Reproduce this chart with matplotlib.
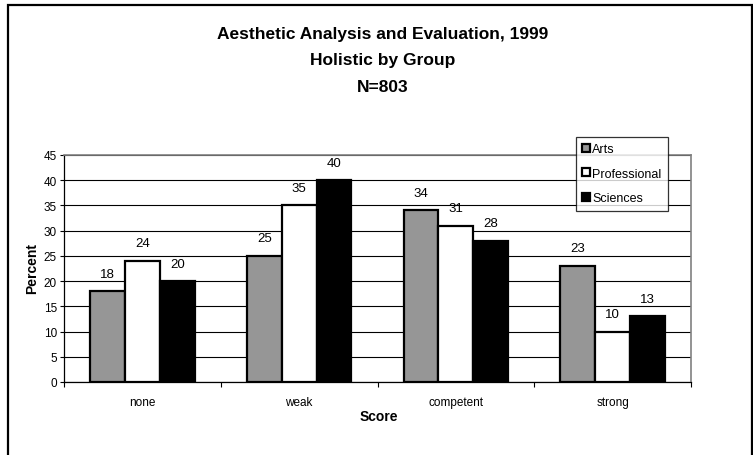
import numpy as np
import matplotlib
matplotlib.use("Agg")
import matplotlib.pyplot as plt
from matplotlib.patches import Rectangle

plt.rcParams['font.family'] = ['Liberation Sans', 'DejaVu Sans']

# Data
scores = ["none", "weak", "competent", "strong"]
groups = ["Arts", "Professional", "Sciences"]
arts = [18, 25, 34, 23]
professional = [24, 35, 31, 10]
sciences = [20, 40, 28, 13]
series = [arts, professional, sciences]
colors = ["#969696", "#ffffff", "#000000"]
yticks = list(range(0, 46, 5))

W, H = 753, 456
fig = plt.figure(figsize=(W / 100, H / 100), dpi=100)

def fx(px):
    return px / W

def fy(py):
    return 1 - py / H

# Outer chart frame
fig.patches.append(Rectangle((fx(8), fy(470)), fx(752) - fx(8), fy(6) - fy(470),
                             transform=fig.transFigure, fill=False,
                             edgecolor="#000000", linewidth=1.6))

# Plot area
left, right, top, bottom = 64, 691, 156, 383
ax = fig.add_axes([fx(left), fy(bottom), fx(right) - fx(left), fy(top) - fy(bottom)])

x = np.arange(len(scores))
bw = 1 / 4.5
offsets = [-bw, 0, bw]
for vals, col, off, name in zip(series, colors, offsets, groups):
    ax.bar(x + off, vals, width=bw, color=col, edgecolor="black",
           linewidth=1.6, label=name, zorder=3)
    for xi, v in zip(x + off, vals):
        ax.annotate(f"{v:.0f}", (xi, v), xytext=(0, 12.6), textcoords="offset points",
                    ha="center", va="center", fontsize=9.5, color="black")

ax.set_xlim(-0.5, len(scores) - 0.5)
ax.set_ylim(0, 45)
ax.set_yticks(yticks)
ax.yaxis.grid(True, color="black", linewidth=0.8, zorder=0)
ax.set_axisbelow(True)

ax.set_xticks(x)
ax.set_xticklabels(scores, fontsize=8.5)
ax.set_xticks(np.arange(-0.5, len(scores), 1), minor=True)
ax.tick_params(axis="x", which="major", length=0, pad=10)
ax.tick_params(axis="x", which="minor", length=3.5, width=0.8, direction="out")
ax.tick_params(axis="y", labelsize=8.5, length=3, width=0.8, pad=2)

for s in ["top", "right"]:
    ax.spines[s].set_color("#808080")
    ax.spines[s].set_linewidth(1.2)
for s in ["left", "bottom"]:
    ax.spines[s].set_color("black")
    ax.spines[s].set_linewidth(0.9)

# Titles and axis labels
title_lines = ["Aesthetic Analysis and Evaluation, 1999", "Holistic by Group", "N=803"]
for line, py in zip(title_lines, [34.5, 61, 87.5]):
    fig.text(fx(383), fy(py), line, ha="center", va="center",
             fontsize=12.5, fontweight="bold")
fig.text(fx(379), fy(416.7), "Score", ha="center", va="center", fontsize=10, fontweight="bold")
fig.text(fx(32), fy(269), "Percent", ha="center", va="center", rotation=90,
         fontsize=10, fontweight="bold")

# Legend
leg = fig.legend(loc="upper left", bbox_to_anchor=(fx(576), fy(138)),
                 bbox_transform=fig.transFigure, fontsize=9, frameon=True,
                 fancybox=False, edgecolor="black", handlelength=0.6,
                 handleheight=0.6, handletextpad=0.2, labelspacing=1.0,
                 borderpad=0.5, borderaxespad=0)
leg.get_frame().set_linewidth(0.9)

fig.savefig("out.png", dpi=100)
